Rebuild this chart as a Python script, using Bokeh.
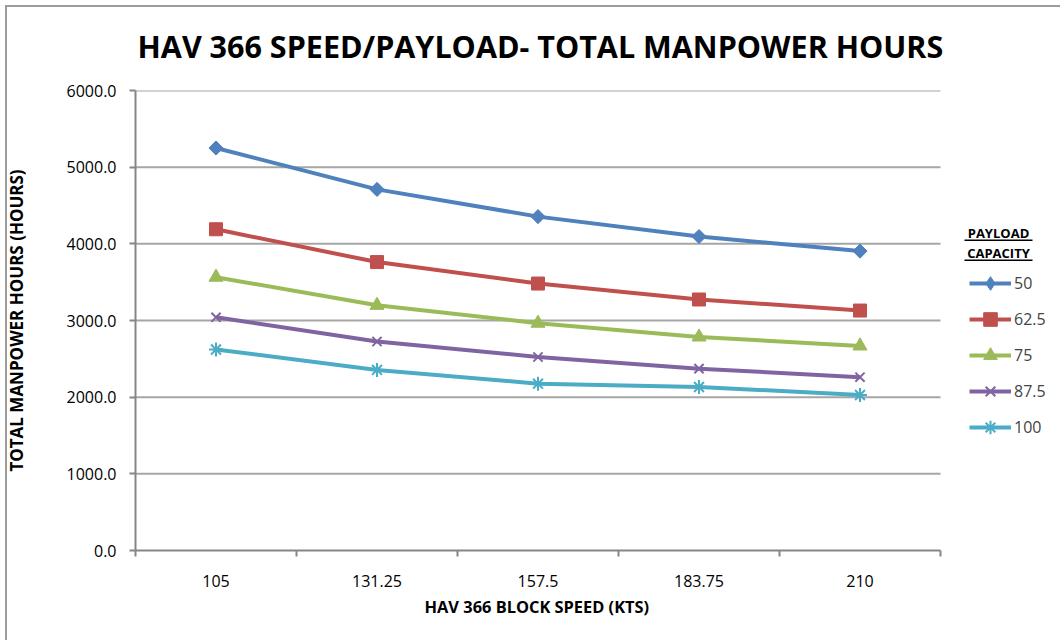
import math
from bokeh.plotting import figure
from bokeh.models import (Range1d, FixedTicker, NumeralTickFormatter, Label, Legend,
                          LegendItem, BoxAnnotation, Title)
from bokeh.embed import file_html
from bokeh.resources import INLINE

# ---- data ----
speeds = ["105", "131.25", "157.5", "183.75", "210"]
capacities = ["50", "62.5", "75", "87.5", "100"]
hours_50 = [5250, 4710, 4355, 4095, 3905]
hours_62_5 = [4190, 3762, 3482, 3274, 3130]
hours_75 = [3565, 3198, 2965, 2785, 2668]
hours_87_5 = [3042, 2726, 2524, 2372, 2260]
hours_100 = [2622, 2355, 2176, 2133, 2028]
series = [hours_50, hours_62_5, hours_75, hours_87_5, hours_100]
y_ticks = [0, 1000, 2000, 3000, 4000, 5000, 6000]
Y_MAX = 6000

colors = ["#4F81BD", "#C0504D", "#9BBB59", "#8064A2", "#4BACC6"]
markers = ["square", "square", "triangle", "x", "asterisk"]
legend_markers = ["diamond", "square", "triangle", "x", "asterisk"]
angles = [math.pi / 4, 0, 0, 0, 0]
sizes = [10, 13, 14, 13, 14]

FONT = "Open Sans"
W, H = 1060, 640
# plot area in canvas pixels: x 135..940, y 90..550
PX_L, PX_R, PX_T, PX_B = 135, 940, 90, 550
n = len(speeds)
x_end = n * (W - PX_L) / (PX_R - PX_L)

p = figure(width=W, height=H, output_backend="svg", toolbar_location=None,
           x_range=Range1d(0, x_end), y_range=Range1d(0, Y_MAX),
           min_border_left=PX_L, min_border_right=0,
           min_border_top=PX_T, min_border_bottom=H - PX_B)
p.outline_line_color = None
p.background_fill_color = "white"
p.border_fill_alpha = 0
# outer chart border (left and top edges, as in the cropped reference)
p.styles = {"background": "linear-gradient(#9c9c9c,#9c9c9c) 5px 5px / 2px 100% no-repeat, "
                          "linear-gradient(#9c9c9c,#9c9c9c) 5px 5px / 100% 2px no-repeat, "
                          "#ffffff"}
p.xgrid.grid_line_color = None
p.ygrid.grid_line_color = None

p.title = Title(text="HAV 366 SPEED/PAYLOAD- TOTAL MANPOWER HOURS", align="left",
                offset=2, vertical_align="middle", standoff=45,
                text_font=FONT, text_font_size="30.5px", text_font_style="bold",
                text_color="#000000")

# horizontal gridlines across the plot area only
p.segment(x0=[0] * len(y_ticks[1:]), x1=[n] * len(y_ticks[1:]),
          y0=y_ticks[1:], y1=y_ticks[1:], line_color="#A6A6A6", line_width=2)

xs = [i + 0.5 for i in range(n)]

items = []
for cap, ys, col, mk, lmk, ang, sz in zip(capacities, series, colors, markers,
                                          legend_markers, angles, sizes):
    r1 = p.line(xs, ys, line_color=col, line_width=4)
    lw = 2 if mk in ("x", "asterisk") else 1
    r2 = p.scatter(xs, ys, marker=mk, size=sz, angle=ang, fill_color=col,
                   line_color=col, line_width=lw)
    if lmk != mk:
        # legend-only marker (zero size in the plot)
        r3 = p.scatter(xs[:1], ys[:1], marker=lmk, size=0, fill_color=col,
                       line_color=col, line_width=1)
        items.append(LegendItem(label=cap, renderers=[r1, r3]))
    else:
        items.append(LegendItem(label=cap, renderers=[r1, r2]))

# axes
xa = p.xaxis[0]
xa.bounds = (0, n)
xa.ticker = FixedTicker(ticks=xs, minor_ticks=list(range(n + 1)))
xa.major_label_overrides = {x: s for x, s in zip(xs, speeds)}
xa.major_tick_line_color = None
xa.major_tick_out = 0
xa.major_tick_in = 0
xa.minor_tick_line_color = "#868686"
xa.minor_tick_line_width = 2
xa.minor_tick_out = 6
xa.minor_tick_in = 0
xa.axis_line_color = "#868686"
xa.axis_line_width = 2
xa.major_label_text_font = FONT
xa.major_label_text_font_size = "16px"
xa.major_label_text_color = "#000000"
xa.major_label_standoff = 18

ya = p.yaxis[0]
ya.bounds = (0, Y_MAX)
ya.ticker = FixedTicker(ticks=y_ticks, minor_ticks=[])
ya.formatter = NumeralTickFormatter(format="0.0")
ya.major_tick_line_color = "#868686"
ya.major_tick_line_width = 2
ya.major_tick_out = 6
ya.major_tick_in = 0
ya.minor_tick_line_color = None
ya.axis_line_color = "#868686"
ya.axis_line_width = 2
ya.major_label_text_font = FONT
ya.major_label_text_font_size = "16px"
ya.major_label_text_color = "#000000"
ya.major_label_standoff = 13
ya.axis_label = "TOTAL MANPOWER HOURS (HOURS)"
ya.axis_label_text_font = FONT
ya.axis_label_text_font_size = "17px"
ya.axis_label_text_font_style = "bold"
ya.axis_label_text_color = "#000000"
ya.axis_label_standoff = 36

p.add_layout(Title(text="HAV 366 BLOCK SPEED  (KTS)", align="left",
                   offset=424 - PX_L, vertical_align="middle", standoff=8,
                   text_font=FONT, text_font_size="16.4px", text_font_style="bold",
                   text_color="#000000"), "below")

def lab(text, x, y, size, bold=True):
    # x, y: canvas pixels -> offsets from the plot-area bottom-left corner
    p.add_layout(Label(x=x - PX_L, y=PX_B - y, x_units="screen", y_units="screen",
                       text=text, text_font=FONT, text_font_size=size,
                       text_font_style="bold" if bold else "normal",
                       text_align="center", text_baseline="middle",
                       text_color="#000000"))

lab("PAYLOAD", 998, 232, "13px")
lab("CAPACITY", 998, 252, "13px")

for yy in (239, 259):
    p.add_layout(BoxAnnotation(left=964 - PX_L, right=1032 - PX_L,
                               bottom=PX_B - yy - 1.5, top=PX_B - yy,
                               left_units="screen", right_units="screen",
                               top_units="screen", bottom_units="screen",
                               fill_color="black", fill_alpha=1, line_color=None))

legend = Legend(items=items, location=(969 - PX_L, PX_B - 444), padding=0, margin=0,
                spacing=2, glyph_width=42, glyph_height=34, label_standoff=3,
                label_text_font=FONT, label_text_font_size="16px",
                label_height=34, border_line_color=None, background_fill_alpha=0)
p.add_layout(legend, "center")

open("out.html", "w").write(file_html(p, INLINE))
